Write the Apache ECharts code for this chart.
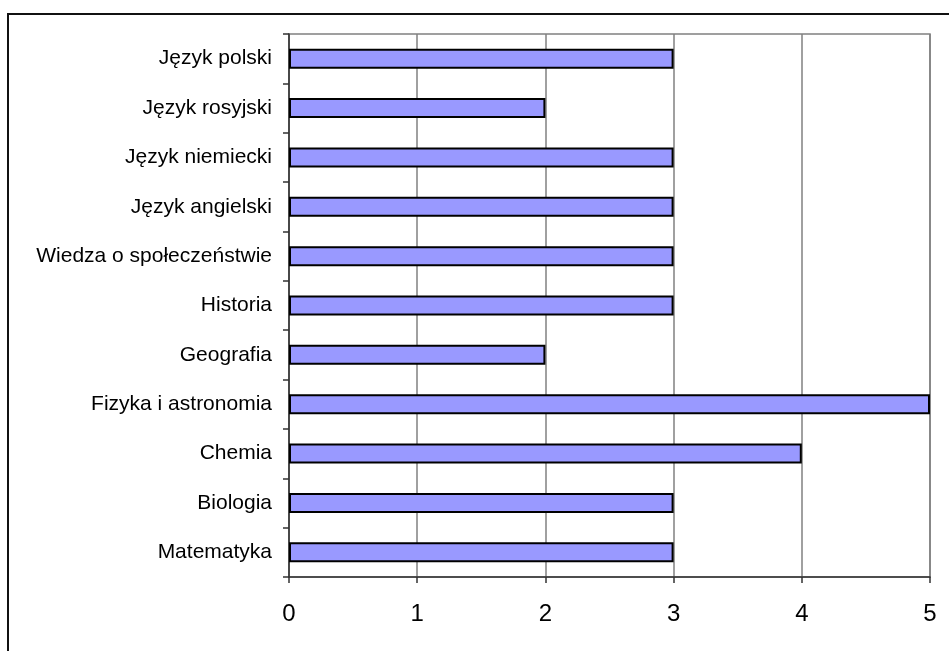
<!DOCTYPE html>
<html><head><meta charset="utf-8">
<script src="https://cdn.jsdelivr.net/npm/echarts@6/dist/echarts.min.js"></script>
<style>html,body{margin:0;padding:0;background:#fff;}#c{width:949px;height:651px;}</style>
</head><body><div id="c"></div>
<script>
const categories = ["Matematyka","Biologia","Chemia","Fizyka i astronomia","Geografia","Historia","Wiedza o społeczeństwie","Język angielski","Język niemiecki","Język rosyjski","Język polski"];
const values = [3,3,4,5,2,3,3,3,3,2,3];
const xTicks = {min:0, max:5, interval:1};

const chart = echarts.init(document.getElementById('c'));
chart.setOption({
  animation:false,
  backgroundColor:'#fff',
  graphic:[{type:'rect', shape:{x:8,y:14,width:1200,height:1200}, style:{fill:'none', stroke:'#111', lineWidth:2}, silent:true}],
  grid:{left:289, top:34, right:19, bottom:74, show:true, borderColor:'#808080', borderWidth:1.5},
  xAxis:{type:'value', min:xTicks.min, max:xTicks.max, interval:xTicks.interval,
    axisLine:{show:true, lineStyle:{color:'#333', width:1.5}},
    axisTick:{show:true, length:6, lineStyle:{color:'#333', width:1.5}},
    splitLine:{show:true, lineStyle:{color:'#808080', width:1.5}},
    axisLabel:{fontFamily:'Liberation Sans, Arial', fontSize:24, color:'#000', margin:25}},
  yAxis:{type:'category', data:categories,
    axisLine:{show:true, lineStyle:{color:'#333', width:1.5}},
    axisTick:{show:true, length:6, lineStyle:{color:'#333', width:1.5}},
    axisLabel:{fontFamily:'Liberation Sans, Arial', fontSize:21, color:'#000', margin:17}},
  series:[{type:'bar', data:values, barWidth:20,
    itemStyle:{color:'#9999FF', borderColor:'#000', borderWidth:2}}]
});
</script></body></html>
